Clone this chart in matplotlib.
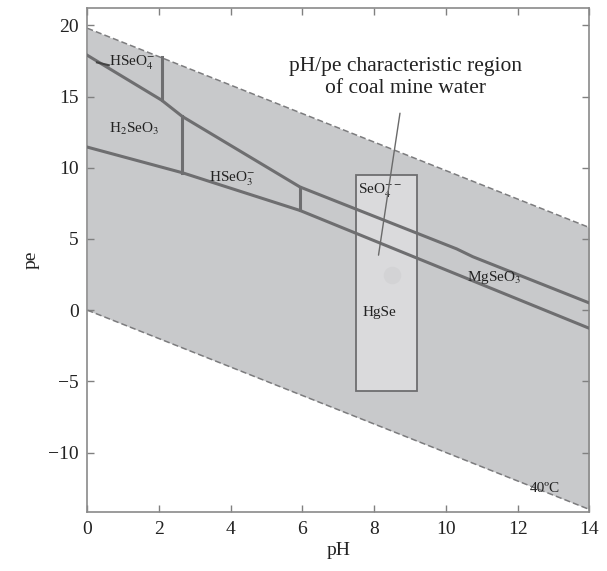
#!/usr/bin/env python3
# pe-pH diagram of Se species, 40 C, with the coal mine water region

import numpy as np
import matplotlib.pyplot as plt

plt.rcParams['font.family'] = ['Liberation Serif', 'DejaVu Serif']
plt.rcParams['mathtext.fontset'] = 'stix'

# water stability limits (pe = a - pH)
ph_lim = [0, 14]
pe_upper = [19.8, 5.8]
pe_lower = [0.0, -14.0]

# Se(VI)/Se(IV) boundary
ph_a = [0, 2.07, 2.65, 5.93, 10.3, 10.75, 14]
pe_a = [17.9, 14.75, 13.6, 8.65, 4.3, 3.75, 0.5]

# Se(IV)/HgSe boundary
ph_b = [0, 2.65, 5.93, 14]
pe_b = [11.45, 9.65, 7.0, -1.28]

# vertical acid/base boundaries
ph_v = [2.07, 2.65, 5.93]
pe_v_lo = [14.75, 9.65, 7.0]
pe_v_hi = [17.75, 13.6, 8.65]

# coal mine water region
box_ph = [7.5, 9.2]
box_pe = [-5.7, 9.5]

labels = [r'HSeO$_4^{-}$', r'H$_2$SeO$_3$', r'HSeO$_3^{-}$', r'SeO$_4^{--}$',
          'HgSe', r'MgSeO$_3$']
label_ph = [1.25, 1.3, 4.05, 8.15, 8.15, 11.35]
label_pe = [17.35, 12.75, 9.2, 8.4, -0.2, 2.3]

line_col = '#6e6e70'

fig = plt.figure(figsize=(6.07, 5.71), dpi=100)
ax = fig.add_axes([0.1438, 0.1028, 0.8272, 0.8827])

ax.fill_between(ph_lim, pe_lower, pe_upper, color='#c8c9cb', lw=0, zorder=1)
ax.plot(ph_lim, pe_upper, ls=(0, (4, 2)), color='#7c7c7e', lw=1.1, zorder=2)
ax.plot(ph_lim, pe_lower, ls=(0, (4, 2)), color='#7c7c7e', lw=1.1, zorder=2)

ax.add_patch(plt.Rectangle((box_ph[0], box_pe[0]), box_ph[1] - box_ph[0],
                           box_pe[1] - box_pe[0], facecolor='#dadadc',
                           edgecolor=line_col, lw=1.3, zorder=3))
ax.scatter([8.5], [2.45], s=160, color='#cdcdcf', alpha=0.5, lw=0, zorder=3)

ax.plot(ph_a, pe_a, color=line_col, lw=2.2, zorder=4)
ax.plot(ph_b, pe_b, color=line_col, lw=2.2, zorder=4)
for x, lo, hi in zip(ph_v, pe_v_lo, pe_v_hi):
    ax.plot([x, x], [lo, hi], color=line_col, lw=2.2, zorder=4)

# small leader mark near HSeO4- label
ax.plot([0.27, 0.6], [17.4, 17.2], color='#444444', lw=1.5, zorder=5)

for t, x, y in zip(labels, label_ph, label_pe):
    ax.text(x, y, t, fontsize=11, ha='center', va='center', color='#222222', zorder=6)

ax.text(12.75, -12.5, '40ºC', fontsize=11, ha='center', va='center', color='#222222', zorder=6)

ax.annotate('pH/pe characteristic region\nof coal mine water', xy=(8.12, 3.86),
            xytext=(8.87, 16.35), ha='center', va='center', fontsize=15.5,
            color='#222222', linespacing=1.25, zorder=6,
            arrowprops=dict(arrowstyle='-', color='#6a6a6a', lw=1,
                            shrinkA=9, shrinkB=0))

ax.set_xlim(0, 14)
ax.set_ylim(-14.2, 21.2)
ax.set_xticks(np.arange(0, 15, 2))
ax.set_yticks([-10, -5, 0, 5, 10, 15, 20])
ax.set_yticklabels(['\u221210', '\u22125', '0', '5', '10', '15', '20'])
ax.tick_params(direction='in', length=5, width=1, color='#808080',
               top=True, right=True, labelsize=14, labelcolor='#222222', pad=6)
for s in ax.spines.values():
    s.set_color('#8a8a8a')
    s.set_linewidth(1.2)
ax.set_xlabel('pH', fontsize=14, color='#222222', labelpad=3)
ax.set_ylabel('pe', fontsize=14, color='#222222', labelpad=6)

fig.savefig('out.png', dpi=100)
